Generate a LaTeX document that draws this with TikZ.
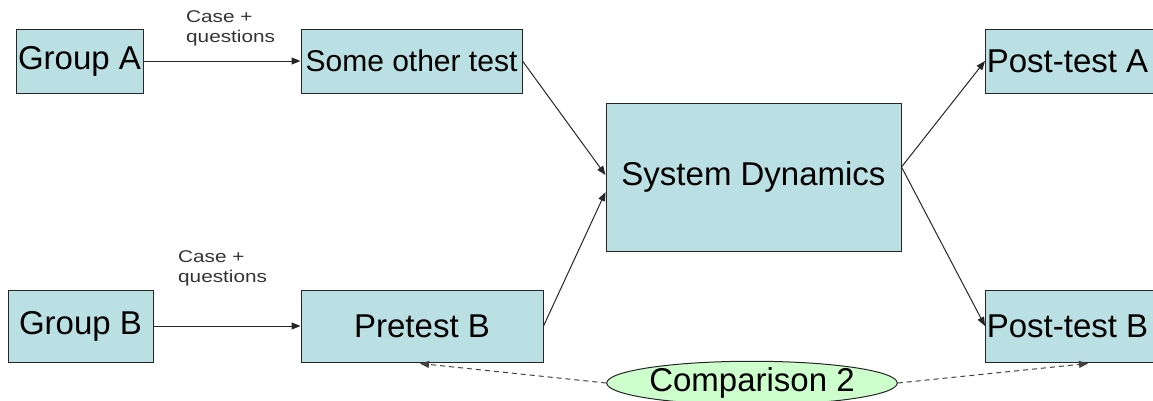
\documentclass[tikz,border=0pt]{standalone}
\usepackage{fontspec}
\setmainfont{Liberation Sans}
\usetikzlibrary{arrows.meta,shapes.geometric}
\definecolor{boxfill}{HTML}{BBE0E3}
\definecolor{ellfill}{HTML}{CCFFCC}
\tikzset{
  box/.style={draw=black!85, line width=1pt, fill=boxfill, inner sep=0pt, font=\fontsize{33}{36}\selectfont},
  ell/.style={ellipse, draw=black!85, line width=1pt, fill=ellfill, inner sep=0pt, font=\fontsize{33}{36}\selectfont},
  conn/.style={draw=black!85, line width=1pt, -{Triangle[length=9pt,width=7pt]}},
  dconn/.style={draw=black!75, line width=1pt, dash pattern=on 5pt off 4pt, -{Triangle[length=9pt,width=7pt]}},
  lbl/.style={align=left, inner sep=0pt, text=black!80, font=\fontsize{17}{20}\selectfont}
}
\newcommand{\wide}[1]{\scalebox{1.22}[1]{#1}}
\begin{document}
\begin{tikzpicture}[x=1pt,y=-1pt]
\useasboundingbox (0,0) rectangle (1153,400);
% boxes
\node[box, minimum width=127pt, minimum height=64pt] (GA) at (79.5,61) {Group A};
\node[box, minimum width=221pt, minimum height=64pt, font=\fontsize{30}{33}\selectfont] (SOT) at (411.5,61) {Some other test};
\node[box, minimum width=180pt, minimum height=64pt, anchor=west] (PA) at (985,61) {\hspace{-16pt}Post-test A};
\node[box, minimum width=295pt, minimum height=148pt] (SD) at (753.5,177) {System Dynamics};
\node[box, minimum width=145pt, minimum height=72pt] (GB) at (80.5,326) {Group B};
\node[box, minimum width=242pt, minimum height=72pt] (PB) at (422,326) {Pretest B};
\node[box, minimum width=180pt, minimum height=72pt, anchor=west] (PBB) at (985,326) {\hspace{-16pt}Post-test B};
\node[ell, minimum width=278pt, minimum height=42pt] (C2) at (752,383) {Comparison 2};
% labels
\node[lbl, anchor=north west] (LA) at (186,10) {\wide{Case +}\\\wide{questions}};
\node[lbl, anchor=north west] (LB) at (178,250) {\wide{Case +}\\\wide{questions}};
% connectors
\draw[conn] (GA.east) -- (SOT.west);
\draw[conn] (GB.east) -- (PB.west);
\draw[conn] (SOT.east) -- ([yshift=2pt]SD.west);
\draw[conn] (PB.east) -- ([yshift=-15pt]SD.west);
\coordinate (SDR) at ([yshift=10pt]SD.east);
\draw[conn] (SDR) -- (PA.west);
\draw[conn] (SDR) -- (PBB.west);
\draw[dconn] (C2.west) -- ([xshift=-2pt,yshift=-1pt]PB.south);
\draw[dconn] (C2.east) -- ([xshift=103pt,yshift=-1pt]PBB.south west);
\end{tikzpicture}
\end{document}
